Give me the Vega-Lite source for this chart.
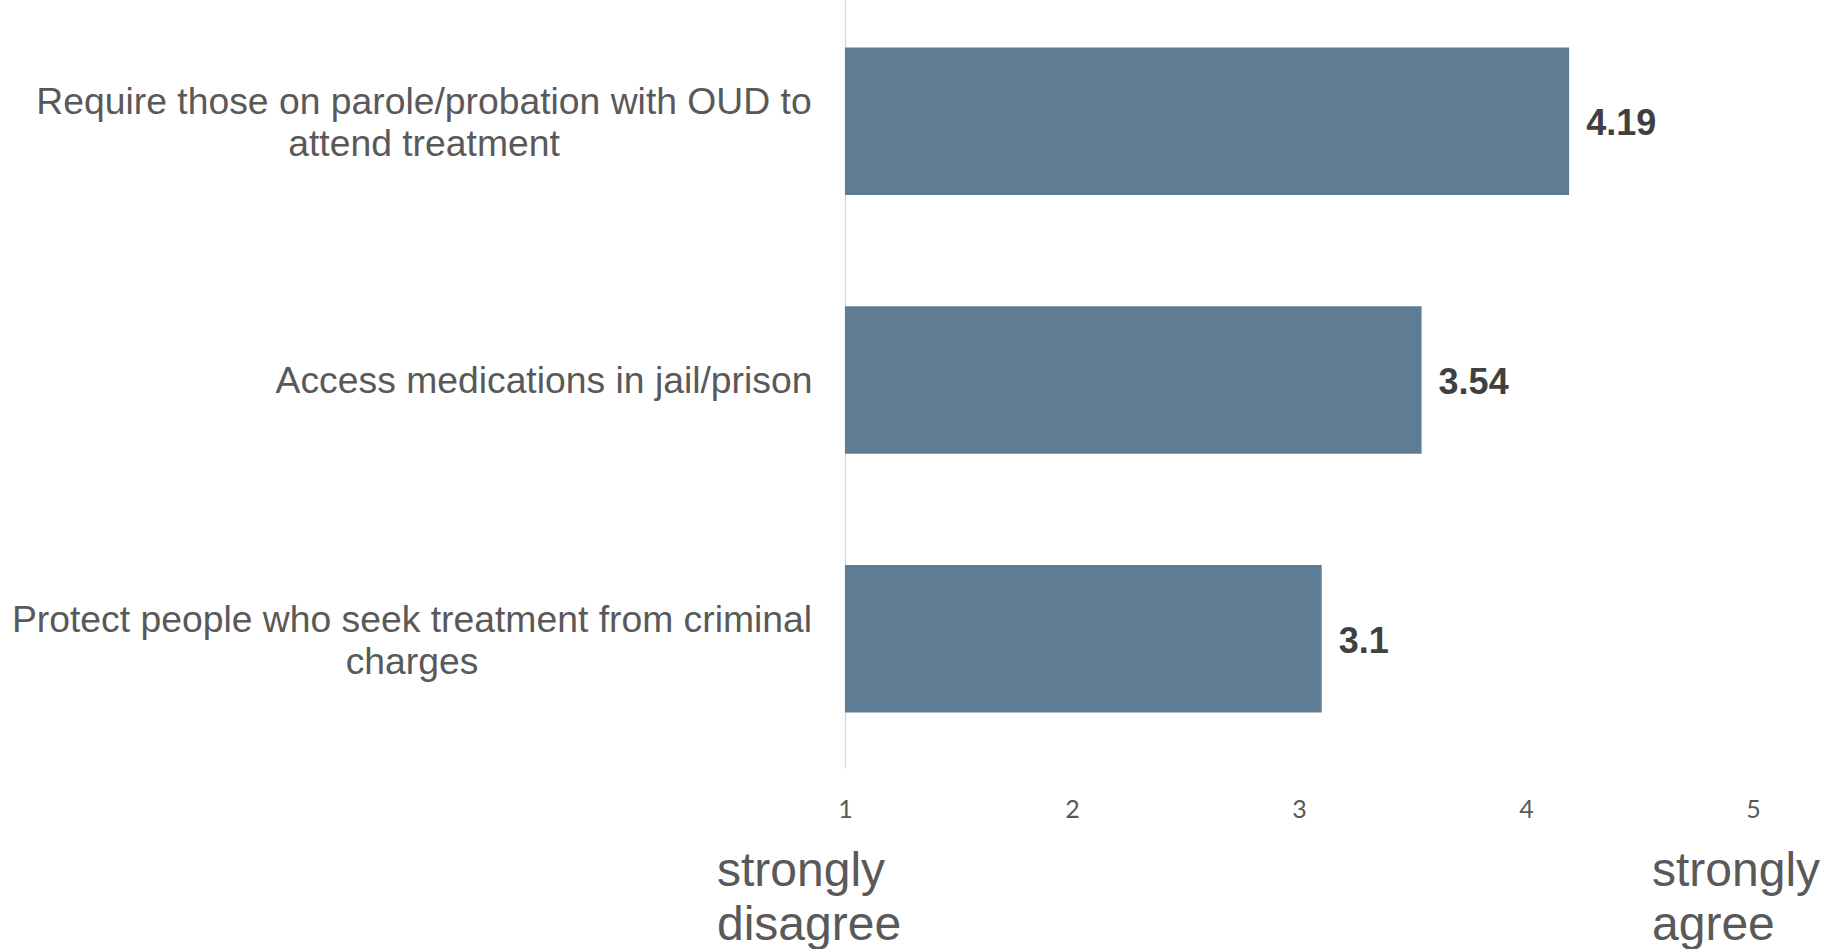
{
  "$schema": "https://vega.github.io/schema/vega-lite/v6.json",
  "autosize": {"type": "none"},
  "width": 908,
  "height": 776,
  "padding": {"left": 845, "top": -8, "right": 72, "bottom": 181},
  "background": "white",
  "config": {"view": {"stroke": null}},
  "datasets": {
    "scores": [
      {"item": "Require those on parole/probation with OUD to\nattend treatment", "score": 4.19},
      {"item": "Access medications in jail/prison", "score": 3.54},
      {"item": "Protect people who seek treatment from criminal\ncharges", "score": 3.1}
    ],
    "ends": [
      {"end": 1, "text": "strongly disagree"},
      {"end": 5, "text": "strongly agree"}
    ]
  },
  "data": {"name": "scores"},
  "encoding": {
    "y": {
      "field": "item",
      "type": "nominal",
      "sort": null,
      "scale": {"paddingInner": 0.43, "paddingOuter": 0.215},
      "axis": {
        "title": null,
        "ticks": false,
        "labels": false,
        "domain": true,
        "domainColor": "#d9d9d9",
        "domainWidth": 1.5
      }
    }
  },
  "layer": [
    {
      "mark": {"type": "bar", "color": "#5e7c94"},
      "encoding": {
        "x": {
          "field": "score",
          "type": "quantitative",
          "scale": {"domain": [1, 5], "nice": false, "zero": false},
          "axis": {
            "title": null,
            "values": [1, 2, 3, 4, 5],
            "format": "d",
            "domain": false,
            "ticks": false,
            "tickSize": 0,
            "grid": false,
            "labelFlush": false,
            "labelFont": "Lato",
            "labelFontSize": 25,
            "labelColor": "#595959",
            "labelBaseline": "middle",
            "labelPadding": 41
          }
        },
        "x2": {"datum": 1}
      }
    },
    {
      "mark": {"type": "text", "align": "left", "baseline": "middle", "dx": 17, "dy": 3, "font": "Liberation Sans", "fontWeight": "bold", "fontSize": 36, "color": "#404040"},
      "encoding": {
        "x": {"field": "score", "type": "quantitative"},
        "text": {"field": "score", "type": "quantitative"}
      }
    },
    {
      "transform": [{"filter": "indexof(datum.item, 'Require') == 0"}],
      "mark": {"type": "text", "align": "center", "baseline": "middle", "dx": -421, "dy": -18, "lineBreak": "\n", "lineHeight": 42, "font": "Liberation Sans", "fontSize": 37.3, "color": "#595959"},
      "encoding": {
        "x": {"datum": 1},
        "text": {"field": "item"}
      }
    },
    {
      "transform": [{"filter": "indexof(datum.item, 'Access') == 0"}],
      "mark": {"type": "text", "align": "center", "baseline": "middle", "dx": -301, "dy": 2, "lineBreak": "\n", "lineHeight": 42, "font": "Liberation Sans", "fontSize": 37.3, "color": "#595959"},
      "encoding": {
        "x": {"datum": 1},
        "text": {"field": "item"}
      }
    },
    {
      "transform": [{"filter": "indexof(datum.item, 'Protect') == 0"}],
      "mark": {"type": "text", "align": "center", "baseline": "middle", "dx": -433, "dy": -18, "lineBreak": "\n", "lineHeight": 42, "font": "Liberation Sans", "fontSize": 37.3, "color": "#595959"},
      "encoding": {
        "x": {"datum": 1},
        "text": {"field": "item"}
      }
    },
    {
      "data": {"name": "ends"},
      "transform": [{"filter": "datum.end == 1"}],
      "mark": {"type": "text", "align": "left", "baseline": "alphabetic", "y": "height", "dy": 118, "dx": -128, "lineBreak": " ", "lineHeight": 54, "font": "Liberation Sans", "fontSize": 48, "color": "#595959"},
      "encoding": {
        "x": {"field": "end", "type": "quantitative"},
        "y": null,
        "text": {"field": "text"}
      }
    },
    {
      "data": {"name": "ends"},
      "transform": [{"filter": "datum.end == 5"}],
      "mark": {"type": "text", "align": "left", "baseline": "alphabetic", "y": "height", "dy": 118, "dx": -101, "lineBreak": " ", "lineHeight": 54, "font": "Liberation Sans", "fontSize": 48, "color": "#595959"},
      "encoding": {
        "x": {"field": "end", "type": "quantitative"},
        "y": null,
        "text": {"field": "text"}
      }
    }
  ]
}
